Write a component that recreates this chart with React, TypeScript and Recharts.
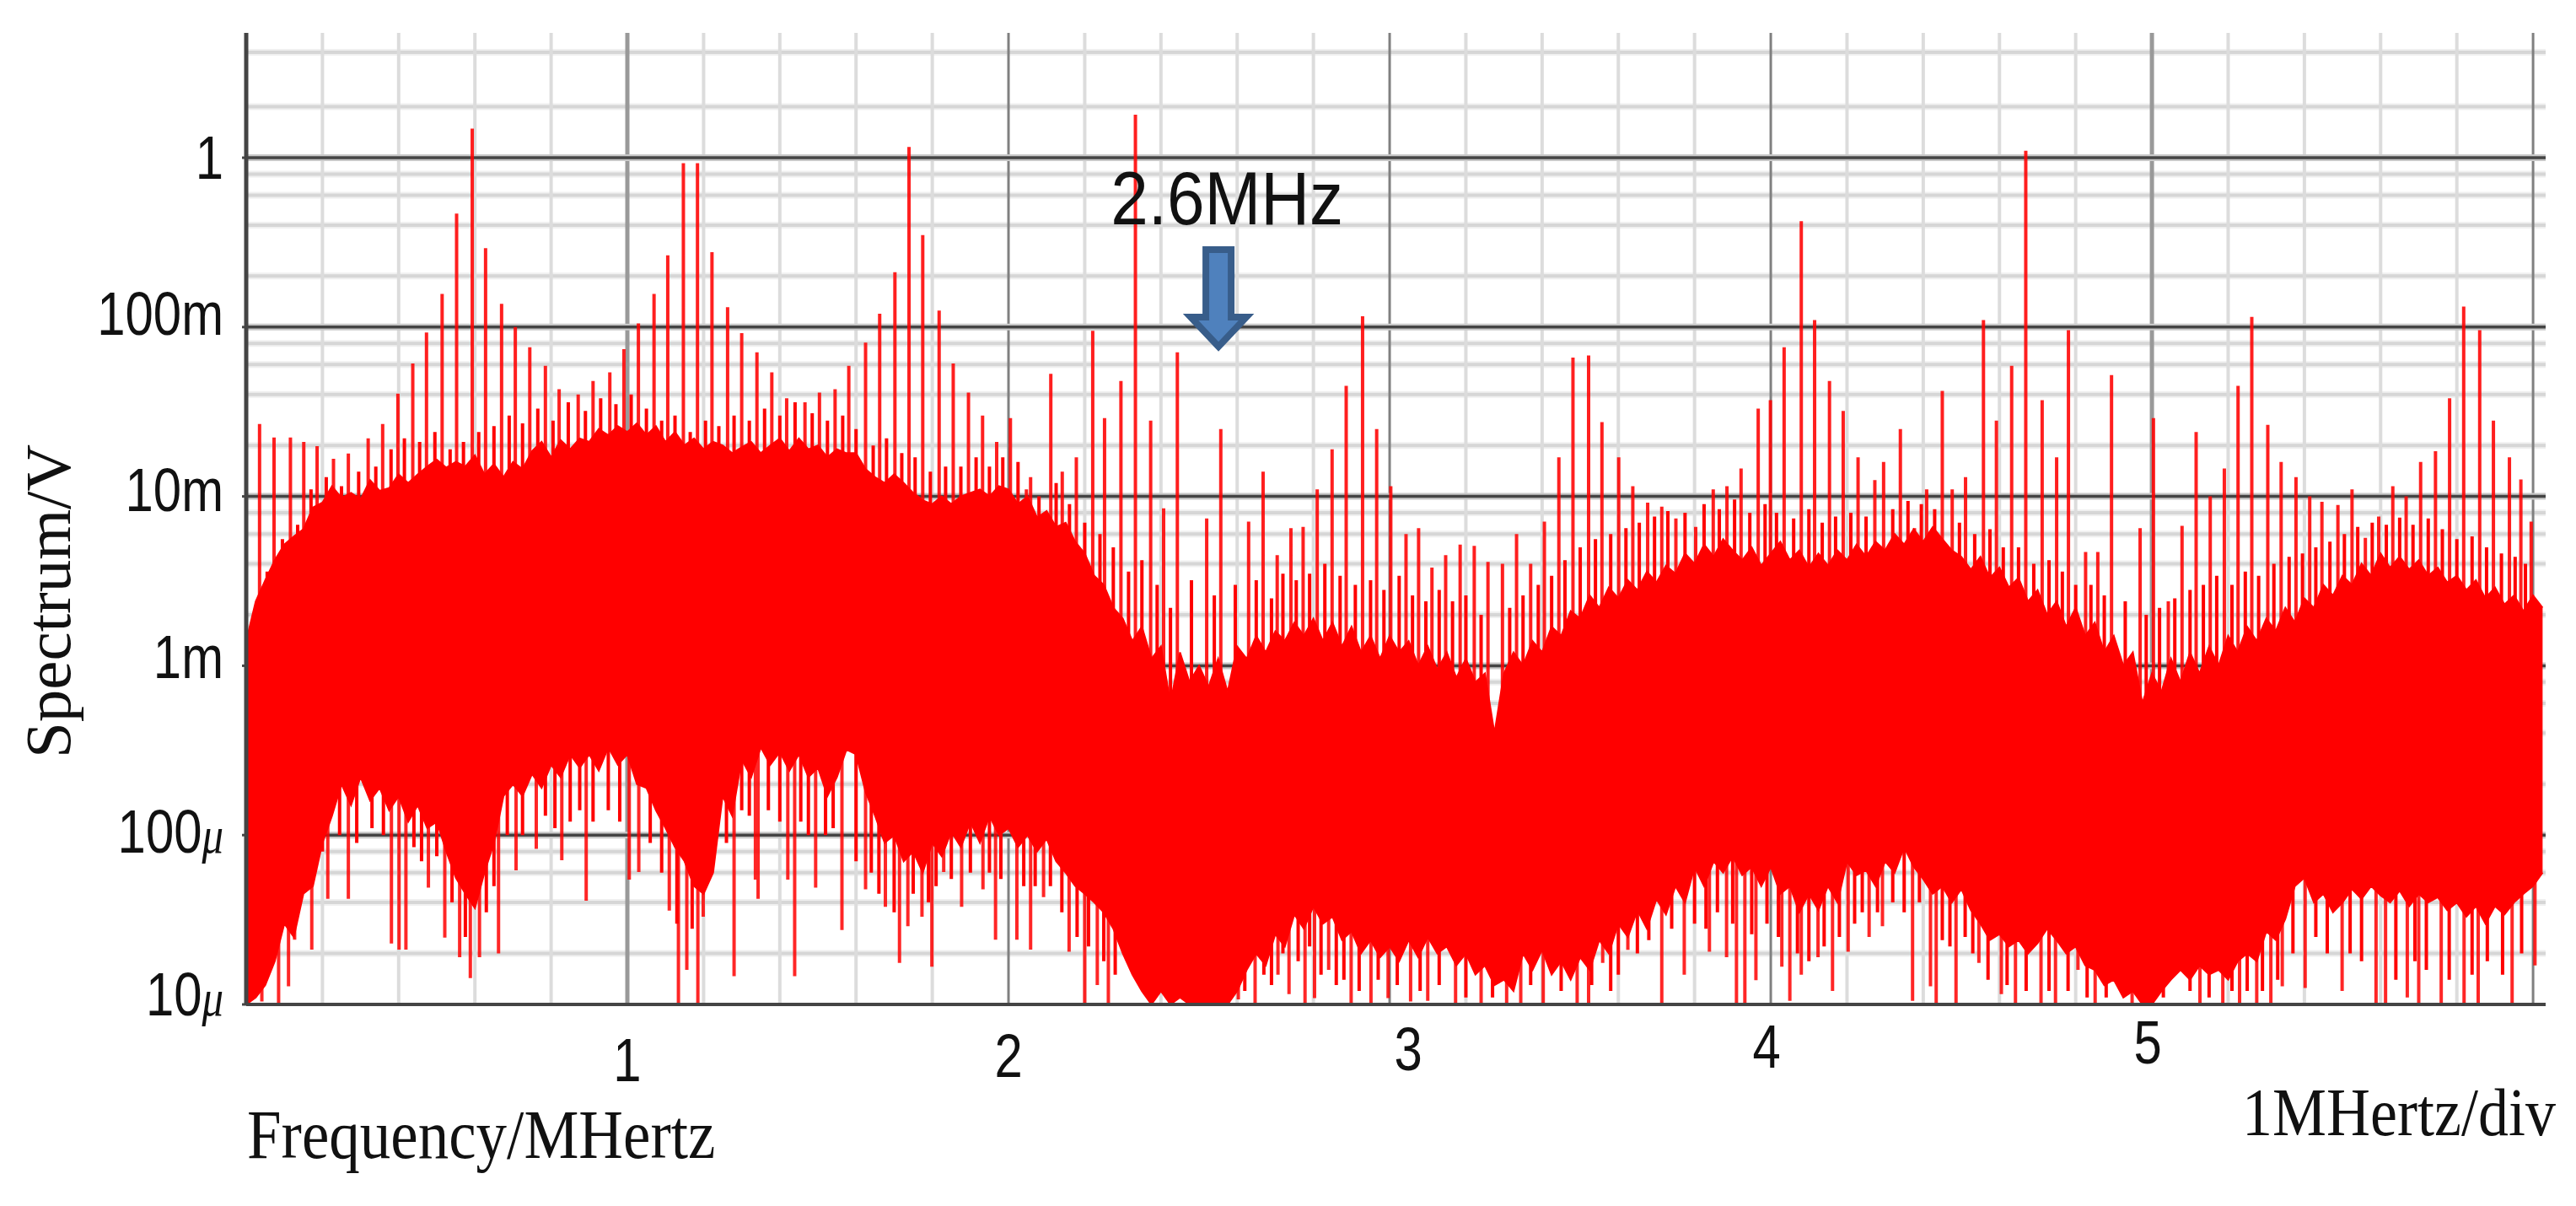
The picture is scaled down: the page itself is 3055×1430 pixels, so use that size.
import React from "react";
import {
  ComposedChart,
  Area,
  Line,
  XAxis,
  YAxis,
  CartesianGrid,
  ReferenceDot,
} from "recharts";

// everything is in mV so the log axis runs 0.01 (10u) .. 1000 (1V)
const sampleStep = 0.025; // MHz between envelope samples

const upperEnvelope = [
  1.4, 2.4, 3.2, 4.2, 5.2, 5.8, 6.4, 8.6, 9.2, 11.5,
  9.8, 10.5, 9.6, 12.5, 10.8, 11.2, 13.5, 12, 13.5, 15,
  16.5, 14.8, 16, 15, 17.5, 13.5, 15.5, 13, 16, 14.5,
  18.5, 21, 17, 21.5, 19, 22, 21, 25, 23, 26,
  24, 27, 23, 26, 21, 24, 20, 22, 19, 21,
  20, 18, 19.5, 21, 18, 20, 22, 18.5, 22, 19,
  20, 17, 19, 18, 18, 14.5, 13, 12, 13.5, 12,
  10.5, 9.5, 9, 10, 9, 10, 10.5, 11, 10, 11.5,
  11, 9, 10, 7.5, 8.2, 6.6, 7, 5.4, 4.6, 3.4,
  3, 2.2, 1.9, 1.4, 1.7, 1.1, 1.3, 0.6, 1.2, 0.8,
  1, 0.75, 1.1, 0.7, 1.3, 1.1, 1.5, 1.2, 1.6, 1.4,
  1.8, 1.5, 1.9, 1.4, 1.8, 1.3, 1.7, 1.2, 1.5, 1.1,
  1.5, 1.2, 1.4, 1, 1.3, 0.95, 1.2, 0.85, 1.1, 0.8,
  0.9, 0.4, 0.9, 1.2, 1, 1.4, 1.2, 1.7, 1.5, 2.1,
  1.9, 2.6, 2.2, 2.9, 2.5, 3.2, 2.8, 3.6, 3.1, 3.9,
  3.5, 4.6, 4, 5.2, 4.4, 5.6, 4.8, 4.2, 5, 3.9,
  4.6, 5.4, 4.2, 4.8, 3.8, 4.6, 3.9, 4.8, 4.2, 5.2,
  4.4, 5.4, 4.8, 6, 5.2, 6.4, 5.4, 6.6, 5.6, 4.8,
  4.4, 3.7, 4.4, 3.3, 3.8, 2.9, 3.3, 2.4, 2.8, 2,
  2.4, 1.7, 2.2, 1.5, 1.8, 1.2, 1.5, 1, 1.2, 0.6,
  0.9, 0.7, 1.1, 0.8, 1.2, 0.9, 1.3, 1, 1.5, 1.2,
  1.7, 1.4, 1.9, 1.6, 2.2, 1.8, 2.5, 2.2, 3, 2.6,
  3.4, 3, 4, 3.4, 4.6, 3.8, 4.4, 3.7, 4.2, 3.4,
  3.8, 3.1, 3.4, 2.8, 3.2, 2.5, 2.9, 2.3, 2.6, 2.1,
  2.6, 2.2,
];

const lowerEnvelope = [
  0.01, 0.011, 0.013, 0.018, 0.03, 0.025, 0.045, 0.05, 0.09, 0.13,
  0.2, 0.15, 0.22, 0.16, 0.19, 0.14, 0.17, 0.12, 0.15, 0.11,
  0.12, 0.08, 0.056, 0.045, 0.037, 0.06, 0.09, 0.17, 0.2, 0.17,
  0.23, 0.19, 0.26, 0.22, 0.3, 0.25, 0.3, 0.24, 0.33, 0.26,
  0.3, 0.2, 0.19, 0.14, 0.11, 0.085, 0.07, 0.05, 0.045, 0.06,
  0.17, 0.13, 0.28, 0.22, 0.33, 0.26, 0.31, 0.24, 0.3, 0.22,
  0.25, 0.17, 0.22, 0.32, 0.3, 0.18, 0.13, 0.09, 0.1, 0.07,
  0.08, 0.06, 0.09, 0.075, 0.105, 0.085, 0.12, 0.09, 0.13, 0.1,
  0.11, 0.085, 0.1, 0.08, 0.095, 0.07, 0.06, 0.05, 0.045, 0.04,
  0.035, 0.028, 0.02, 0.015, 0.012, 0.01, 0.012, 0.01, 0.011, 0.01,
  0.01, 0.01, 0.01, 0.01, 0.012, 0.016, 0.02, 0.017, 0.026, 0.022,
  0.034, 0.028, 0.038, 0.03, 0.033, 0.024, 0.027, 0.02, 0.024, 0.019,
  0.022, 0.018, 0.024, 0.019, 0.025, 0.02, 0.022, 0.017, 0.02, 0.015,
  0.017, 0.013, 0.014, 0.012, 0.02, 0.016, 0.021, 0.015, 0.018, 0.014,
  0.019, 0.016, 0.024, 0.02, 0.03, 0.025, 0.036, 0.028, 0.042, 0.034,
  0.05, 0.04, 0.065, 0.05, 0.07, 0.06, 0.075, 0.058, 0.065, 0.05,
  0.065, 0.045, 0.05, 0.035, 0.045, 0.036, 0.05, 0.04, 0.07, 0.058,
  0.062, 0.05, 0.07, 0.06, 0.085, 0.065, 0.055, 0.045, 0.05, 0.04,
  0.048, 0.036, 0.03, 0.024, 0.026, 0.022, 0.024, 0.02, 0.023, 0.028,
  0.024, 0.02, 0.022, 0.017, 0.016, 0.013, 0.014, 0.011, 0.012, 0.01,
  0.01, 0.012, 0.014, 0.016, 0.014, 0.017, 0.015, 0.016, 0.014, 0.018,
  0.02, 0.018, 0.027, 0.024, 0.032, 0.05, 0.056, 0.04, 0.045, 0.035,
  0.04, 0.048, 0.042, 0.05, 0.044, 0.04, 0.047, 0.038, 0.045, 0.04,
  0.043, 0.036, 0.04, 0.033, 0.038, 0.03, 0.038, 0.034, 0.04, 0.045,
  0.05, 0.06,
];

// comb lines sticking out above the band
const peakFreqs = [
  0.035, 0.073, 0.116, 0.151, 0.186, 0.229, 0.268, 0.32, 0.358, 0.398,
  0.437, 0.473, 0.514, 0.552, 0.593, 0.628, 0.67, 0.706, 0.744, 0.785,
  0.821, 0.871, 0.91, 0.954, 0.991, 1.029, 1.07, 1.106, 1.147, 1.184,
  1.222, 1.263, 1.3, 1.34, 1.379, 1.418, 1.466, 1.504, 1.545,
  1.581, 1.625, 1.662, 1.702, 1.739, 1.775, 1.818, 1.855, 1.895, 1.932,
  1.969, 2.005, 2.047, 2.058, 2.111, 2.141, 2.178, 2.221, 2.252, 2.295,
  2.333, 2.373, 2.407, 2.443, 2.52, 2.557, 2.63, 2.668, 2.705, 2.741,
  2.773, 2.81, 2.849, 2.886, 2.929, 2.966, 3.003, 3.043, 3.076, 3.111,
  3.147, 3.185, 3.222, 3.258, 3.296, 3.333, 3.37, 3.406, 3.444, 3.481,
  3.522, 3.557, 3.601, 3.638, 3.677, 3.714, 3.751, 3.803, 3.849, 3.885,
  3.922, 3.967, 3.999, 4.035, 4.08, 4.115, 4.154, 4.19, 4.229, 4.273,
  4.296, 4.34, 4.377, 4.409, 4.45, 4.476, 4.511, 4.558, 4.592, 4.632,
  4.669, 4.712, 4.75, 4.781, 4.826, 4.858, 4.894, 4.969, 5.004, 5.043,
  5.079, 5.116, 5.153, 5.19, 5.226, 5.262, 5.304, 5.339, 5.378, 5.414,
  5.446, 5.488, 5.525, 5.56, 5.595, 5.632, 5.667, 5.705, 5.744, 5.781,
  5.818, 5.86, 5.896, 5.938, 5.968, 5.995,
];

const peakValues = [
  26.8, 22.3, 22.3, 21, 19.8, 16.7, 17.9, 22, 26.8, 40.4,
  61, 93, 157, 468, 1485, 292, 137, 100, 76, 59,
  43, 40, 48, 54, 74, 105, 157, 265, 929, 929,
  277, 131, 92, 71, 54, 38, 36, 41, 43,
  59, 81, 120, 211, 1159, 349, 125, 61, 41, 30,
  21, 29, 11, 13, 53, 14, 17, 95, 29, 48,
  1795, 28, 8.5, 71, 7.4, 25, 7.1, 14, 4.5, 6.5,
  6.6, 11, 19, 45, 116, 25, 11.5, 6, 6.5, 3.8,
  4.5, 5.2, 5.1, 4.1, 4, 6, 4, 7.1, 17, 66,
  68, 27.5, 17, 11.5, 9.2, 8.7, 7.4, 6.6, 11, 11.5,
  14.6, 33, 37, 76, 422, 110, 48, 32, 17, 12.5,
  16, 25, 6.5, 11, 42, 11, 13, 110, 28, 59,
  1099, 37, 17, 96, 4.7, 4.7, 52, 6.5, 29, 2.4,
  6.7, 24, 10, 14.6, 45, 115, 26.5, 16, 13, 10,
  9.3, 8.9, 11, 5.7, 7.6, 11.5, 10, 16, 18.5, 38,
  132, 96, 28, 17, 12.6, 7.1,
];

// shorter lines between the comb, the rough top edge of the band [MHz, mV]
const fuzzTop = [
  [0.055, 3.6], [0.095, 5.6], [0.135, 6.8], [0.17, 11], [0.21, 13], [0.25, 11.5], [0.295, 14], [0.34, 15],
  [0.38, 19], [0.415, 22], [0.455, 21], [0.495, 24], [0.535, 19], [0.57, 21], [0.61, 24], [0.65, 26],
  [0.69, 30], [0.725, 27], [0.765, 33], [0.805, 28], [0.845, 36], [0.89, 32], [0.93, 38], [0.97, 35],
  [1.01, 40], [1.05, 33], [1.09, 28], [1.125, 30], [1.165, 24], [1.205, 28], [1.24, 26], [1.28, 30],
  [1.32, 28], [1.36, 33], [1.4, 30], [1.44, 36], [1.485, 31], [1.525, 28], [1.565, 30], [1.6, 25],
  [1.645, 20], [1.68, 22], [1.72, 18], [1.755, 17], [1.795, 14], [1.835, 15], [1.875, 15], [1.915, 17],
  [1.95, 15], [1.985, 17], [2.025, 16], [2.08, 10], [2.125, 12], [2.16, 9], [2.2, 7], [2.24, 6],
  [2.275, 5], [2.315, 3.6], [2.35, 4.2], [2.39, 3], [2.425, 2.2], [2.48, 3.2], [2.54, 2.6], [2.595, 3],
  [2.65, 3.2], [2.69, 2.5], [2.72, 3.5], [2.755, 3.2], [2.79, 3.5], [2.83, 4], [2.87, 3.4], [2.91, 3],
  [2.95, 3.2], [2.985, 2.8], [3.025, 3.4], [3.06, 2.6], [3.095, 2.4], [3.13, 2.8], [3.165, 2.4], [3.2, 2.6],
  [3.24, 2], [3.315, 2.2], [3.35, 2.6], [3.39, 3], [3.425, 3.4], [3.46, 4.2], [3.5, 5], [3.54, 5.6],
  [3.58, 6], [3.62, 6.5], [3.655, 7], [3.695, 7.6], [3.73, 8.2], [3.775, 8], [3.825, 9], [3.865, 8.4],
  [3.905, 9.6], [3.945, 8], [3.985, 9], [4.015, 8], [4.06, 7.4], [4.1, 8.4], [4.135, 7], [4.17, 7.6],
  [4.21, 8], [4.25, 7.6], [4.32, 8.4], [4.36, 9.4], [4.395, 9], [4.43, 8.4], [4.495, 7], [4.535, 6],
  [4.575, 6.4], [4.61, 5], [4.65, 5], [4.69, 4], [4.73, 4.2], [4.765, 3.6], [4.8, 3], [4.84, 3],
  [4.875, 2.6], [4.93, 2.4], [4.985, 2], [5.02, 2.2], [5.06, 2.5], [5.1, 2.8], [5.135, 3], [5.17, 3.4],
  [5.21, 3], [5.245, 3.6], [5.28, 3.4], [5.32, 4], [5.36, 4.4], [5.395, 4.6], [5.43, 5], [5.467, 5.4],
  [5.505, 6], [5.54, 6.6], [5.578, 7], [5.615, 6.8], [5.65, 7.5], [5.685, 6.8], [5.725, 7.4], [5.762, 6.4],
  [5.8, 5.6], [5.84, 5.8], [5.878, 5], [5.917, 4.6], [5.953, 4.4], [5.98, 4],
];

// thin needles reaching below the band
const troughFreqs = [
  0.041, 0.085, 0.111, 0.127, 0.172, 0.214, 0.268, 0.381, 0.401, 0.419,
  0.478, 0.521, 0.56, 0.588, 0.612, 0.662, 0.708, 0.761, 0.828, 0.892,
  1.005, 1.03, 1.11, 1.134, 1.156, 1.185, 1.199, 1.28, 1.336, 1.343,
  1.421, 1.439, 1.494, 1.563, 1.625, 1.677, 1.714, 1.736, 1.773, 1.799,
  1.83, 1.877, 1.933, 1.966, 2.022, 2.058, 2.092, 2.159, 2.2, 2.233,
  2.262, 2.573, 2.603, 2.647, 2.707, 2.736, 2.778, 2.803, 2.84, 2.899,
  2.951, 2.996, 3.055, 3.1, 3.173, 3.24, 3.307, 3.344, 3.403, 3.492,
  3.522, 3.559, 3.625, 3.714, 3.773, 3.839, 3.884, 3.91, 3.932, 3.961,
  4.029, 4.05, 4.08, 4.124, 4.162, 4.203, 4.258, 4.293, 4.372, 4.419,
  4.434, 4.486, 4.546, 4.605, 4.642, 4.709, 4.747, 4.806, 4.851, 4.948,
  5.126, 5.186, 5.23, 5.275, 5.312, 5.342, 5.402, 5.499, 5.588, 5.613,
  5.67, 5.7, 5.759, 5.819, 5.856, 5.945, 6.005,
];

const troughValues = [
  0.0104, 0.01, 0.0128, 0.0241, 0.0211, 0.042, 0.042, 0.0229, 0.0211, 0.0211,
  0.049, 0.0248, 0.019, 0.0143, 0.019, 0.02, 0.062, 0.083, 0.071, 0.041,
  0.0546, 0.0606, 0.0358, 0.01, 0.016, 0.01, 0.033, 0.0147, 0.0546, 0.042,
  0.0546, 0.0147, 0.049, 0.0275, 0.0478, 0.0377, 0.0176, 0.029, 0.033, 0.0167,
  0.0606, 0.0377, 0.0478, 0.0241, 0.0241, 0.0211, 0.043, 0.0205, 0.01, 0.013,
  0.01, 0.0158, 0.0107, 0.01, 0.015, 0.0115, 0.01, 0.0109, 0.016, 0.01,
  0.01, 0.0109, 0.0104, 0.0105, 0.01, 0.01, 0.01, 0.01, 0.01, 0.01,
  0.01, 0.0176, 0.021, 0.01, 0.015, 0.0205, 0.019, 0.01, 0.01, 0.0139,
  0.0167, 0.0105, 0.015, 0.019, 0.012, 0.0205, 0.025, 0.029, 0.0105, 0.0128,
  0.01, 0.01, 0.0176, 0.0115, 0.01, 0.01, 0.01, 0.016, 0.01, 0.01,
  0.01, 0.01, 0.01, 0.01, 0.01, 0.0128, 0.0125, 0.012, 0.01, 0.01,
  0.011, 0.01, 0.01, 0.01, 0.01, 0.01, 0.017,
];

// shorter needles, the rough bottom edge of the band [MHz, mV]
const fuzzBottom = [
  [0.2, 0.08], [0.245, 0.1], [0.29, 0.09], [0.33, 0.11], [0.36, 0.1], [0.44, 0.085], [0.46, 0.07], [0.5, 0.075],
  [0.54, 0.04], [0.575, 0.025], [0.63, 0.035], [0.65, 0.05], [0.685, 0.1], [0.725, 0.1], [0.785, 0.13], [0.81, 0.11],
  [0.85, 0.12], [0.875, 0.14], [0.91, 0.12], [0.95, 0.14], [0.98, 0.12], [1.06, 0.09], [1.09, 0.06], [1.13, 0.03],
  [1.17, 0.028], [1.22, 0.06], [1.26, 0.09], [1.3, 0.14], [1.32, 0.13], [1.37, 0.14], [1.4, 0.12], [1.455, 0.12],
  [1.475, 0.1], [1.52, 0.1], [1.54, 0.11], [1.6, 0.07], [1.64, 0.06], [1.66, 0.045], [1.7, 0.035], [1.75, 0.045],
  [1.79, 0.04], [1.81, 0.05], [1.85, 0.055], [1.9, 0.06], [1.95, 0.06], [1.98, 0.055], [2.04, 0.05], [2.07, 0.05],
  [2.11, 0.05], [2.14, 0.035], [2.18, 0.025], [2.21, 0.022], [2.25, 0.018], [2.28, 0.015], [2.62, 0.012], [2.67, 0.015],
  [2.69, 0.013], [2.72, 0.02], [2.76, 0.018], [2.79, 0.022], [2.82, 0.015], [2.86, 0.013], [2.88, 0.014], [2.92, 0.012],
  [2.97, 0.014], [3.02, 0.013], [3.08, 0.012], [3.13, 0.013], [3.2, 0.011], [3.27, 0.011], [3.37, 0.013], [3.45, 0.012],
  [3.53, 0.013], [3.58, 0.012], [3.6, 0.015], [3.65, 0.02], [3.68, 0.024], [3.74, 0.028], [3.8, 0.03], [3.83, 0.028],
  [3.86, 0.035], [3.9, 0.03], [3.95, 0.026], [3.99, 0.03], [4.02, 0.025], [4.07, 0.02], [4.1, 0.018], [4.14, 0.022],
  [4.18, 0.025], [4.22, 0.03], [4.24, 0.035], [4.28, 0.035], [4.32, 0.04], [4.35, 0.035], [4.39, 0.04], [4.45, 0.024],
  [4.47, 0.022], [4.51, 0.025], [4.53, 0.02], [4.57, 0.014], [4.62, 0.013], [4.67, 0.012], [4.73, 0.012], [4.78, 0.012],
  [4.83, 0.011], [4.88, 0.011], [5.03, 0.011], [5.1, 0.012], [5.15, 0.011], [5.21, 0.012], [5.25, 0.012], [5.29, 0.012],
  [5.33, 0.014], [5.37, 0.02], [5.43, 0.025], [5.46, 0.02], [5.52, 0.02], [5.55, 0.018], [5.64, 0.014], [5.69, 0.018],
  [5.72, 0.016], [5.78, 0.014], [5.84, 0.015], [5.88, 0.018], [5.92, 0.015], [5.97, 0.02],
];

const bandMiddle = 0.42; // mV, always inside the band, where comb lines start

const yTicks = [0.01, 0.1, 1, 10, 100, 1000];
const yLabels = ["10", "100", "1m", "10m", "100m", "1"];
const yMicro = [true, true, false, false, false, false];
const yMajor = [0.1, 1, 10, 100, 1000];
const yMinor = [
  0.02, 0.04, 0.06, 0.08, 0.2, 0.4, 0.6, 0.8, 2, 4, 6, 8,
  20, 40, 60, 80, 200, 400, 600, 800, 2000, 4200,
];

const xTicks = [1, 2, 3, 4, 5];
const xMinor = [
  0.2, 0.4, 0.6, 0.8, 1.2, 1.4, 1.6, 1.8, 2.2, 2.4, 2.6, 2.8,
  3.2, 3.4, 3.6, 3.8, 4.2, 4.4, 4.6, 4.8, 5.2, 5.4, 5.6, 5.8,
];
const xMajorWide = [1, 5];
const xMajorThin = [2, 3, 4, 6];

const arrowFreq = 2.551;
const arrowTip = 75;

const bandRows = upperEnvelope.map((high, i) => ({
  freq: i * sampleStep,
  band: [lowerEnvelope[i], high],
}));

const combRows = (pairs: number[][]) =>
  pairs.flatMap(([freq, value]) => [
    { freq, v: bandMiddle },
    { freq, v: value },
    { freq, v: null },
  ]);

const zipPairs = (freqs: number[], values: number[]) => freqs.map((f, i) => [f, values[i]]);

const peakRows = combRows(zipPairs(peakFreqs, peakValues));
const troughRows = combRows(zipPairs(troughFreqs, troughValues));
const fuzzTopRows = combRows(fuzzTop);
const fuzzBottomRows = combRows(fuzzBottom);

const sans = '"Liberation Sans", sans-serif';
const serif = '"Liberation Serif", serif';

const yNudge = [13, 21, 15, 17, 9, 25];
const xNudge = [
  [0, 91],
  [0, 86],
  [22, 78],
  [-5, 75],
  [-5, 70],
];

// the labels in the source are squeezed sideways
const YTick = ({ x, y, index }: any) => (
  <text
    transform={`translate(${x} ${y + yNudge[index]}) scale(0.82 1)`}
    textAnchor="end"
    fontFamily={sans}
    fontSize={73}
    fill="#111"
  >
    {yLabels[index]}
    {yMicro[index] && (
      <tspan fontFamily={serif} fontStyle="italic" fontSize={62}>
        μ
      </tspan>
    )}
  </text>
);

const XTick = ({ x, y, payload, index }: any) => (
  <text
    transform={`translate(${x + xNudge[index][0]} ${y + xNudge[index][1]}) scale(0.82 1)`}
    textAnchor="middle"
    fontFamily={sans}
    fontSize={73}
    fill="#111"
  >
    {payload.value}
  </text>
);

const Arrow = ({ cx, cy }: any) => (
  <g>
    <path
      d={`M${cx} ${cy - 2} L${cx - 33} ${cy - 37} L${cx - 15} ${cy - 37} L${cx - 15} ${cy - 117} L${cx + 15} ${cy - 117} L${cx + 15} ${cy - 37} L${cx + 33} ${cy - 37} Z`}
      fill="#4f81bd"
      stroke="#385d8a"
      strokeWidth={8}
      strokeLinejoin="miter"
    />
    <text
      transform={`translate(${cx + 10} ${cy - 147}) scale(0.9 1)`}
      textAnchor="middle"
      fontFamily={sans}
      fontSize={89}
      fill="#111"
    >
      2.6MHz
    </text>
  </g>
);

const comb = (rows: any[], width: number, opacity: number) => (
  <Line
    data={rows}
    dataKey="v"
    type="linear"
    stroke="#ff0000"
    strokeWidth={width}
    strokeOpacity={opacity}
    dot={false}
    activeDot={false}
    isAnimationActive={false}
  />
);

const App = () => (
  <div style={{ position: "absolute", left: 0, top: 0, width: 3055, height: 1430, background: "#fff" }}>
    <ComposedChart
      width={3055}
      height={1430}
      data={bandRows}
      margin={{ top: 39, right: 36, bottom: 0, left: 0 }}
    >
      {/* grid: soft halo first, then the line, the source is a blurry scan */}
      <CartesianGrid vertical={false} horizontalValues={yMinor} stroke="#f0f0f0" strokeWidth={8} />
      <CartesianGrid vertical={false} horizontalValues={yMinor} stroke="#d6d6d6" strokeWidth={4} />
      <CartesianGrid horizontal={false} verticalValues={xMinor} stroke="#dcdcdc" strokeWidth={4} />
      <CartesianGrid horizontal={false} verticalValues={xMajorWide} stroke="#999999" strokeWidth={5} />
      <CartesianGrid horizontal={false} verticalValues={xMajorThin} stroke="#808080" strokeWidth={3} />
      <CartesianGrid vertical={false} horizontalValues={yMajor} stroke="#c8c8c8" strokeWidth={8} />
      <CartesianGrid vertical={false} horizontalValues={yMajor} stroke="#444444" strokeWidth={3.5} />
      <XAxis
        dataKey="freq"
        type="number"
        domain={[0, 6.033]}
        allowDataOverflow
        ticks={xTicks}
        height={239}
        tickLine={false}
        tickSize={0}
        tickMargin={0}
        axisLine={{ stroke: "#444", strokeWidth: 4 }}
        tick={<XTick />}
        interval={0}
      />
      <YAxis
        type="number"
        scale="log"
        domain={[0.01, 5460]}
        allowDataOverflow
        ticks={yTicks}
        width={292}
        tickSize={5}
        tickMargin={22}
        tickLine={{ stroke: "#444", strokeWidth: 3 }}
        axisLine={{ stroke: "#444", strokeWidth: 5 }}
        tick={<YTick />}
        interval={0}
      />
      <Area
        dataKey="band"
        type="linear"
        stroke="#ff0000"
        strokeWidth={2}
        fill="#ff0000"
        fillOpacity={1}
        dot={false}
        activeDot={false}
        isAnimationActive={false}
      />
      {comb(fuzzTopRows, 4, 1)}
      {comb(fuzzBottomRows, 4, 1)}
      {comb(peakRows, 4, 0.88)}
      {comb(troughRows, 4, 0.85)}
      <ReferenceDot x={arrowFreq} y={arrowTip} ifOverflow="visible" shape={<Arrow />} />
      <text x={83} y={713} transform="rotate(-90 83 713)" textAnchor="middle" fontFamily={serif} fontSize={77} fill="#111">
        Spectrum/V
      </text>
      <text transform="translate(293 1373) scale(1 1.12)" fontFamily={serif} fontSize={73} fill="#111">
        Frequency/MHertz
      </text>
      <text transform="translate(2659 1346) scale(1 1.12)" fontFamily={serif} fontSize={72} fill="#111">
        1MHertz/div
      </text>
    </ComposedChart>
  </div>
);

export default App;
